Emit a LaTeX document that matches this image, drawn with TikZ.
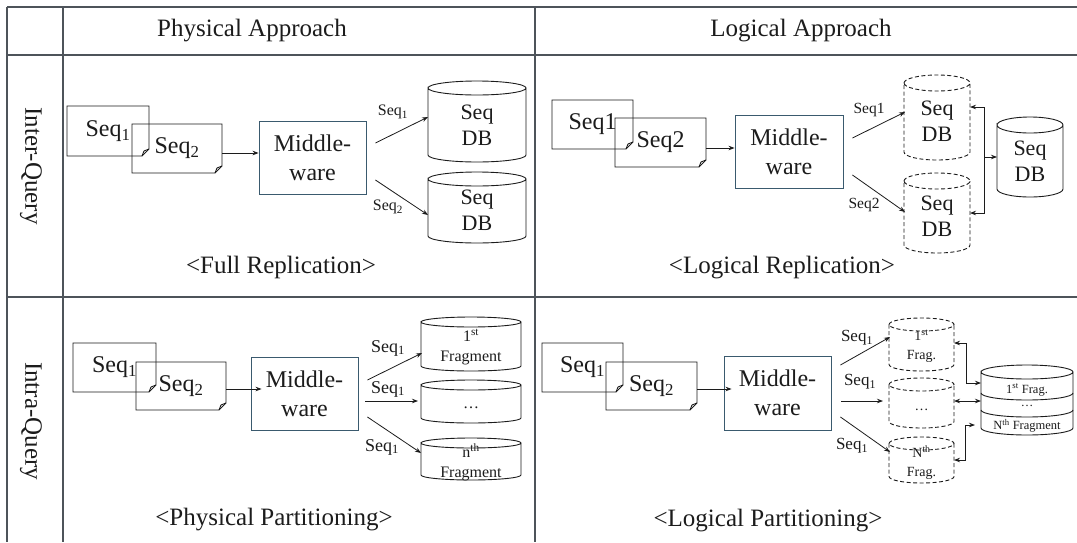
\documentclass[tikz,border=0pt]{standalone}
\usepackage{fontspec}
\setmainfont{Liberation Serif}
\usetikzlibrary{arrows.meta,calc}

\definecolor{ink}{RGB}{28,28,28}
\definecolor{rule}{RGB}{78,84,90}
\definecolor{mwedge}{RGB}{58,90,110}

\newcommand\fsz[2]{\fontsize{#1}{#2}\selectfont}

% sheet of paper with a dog-eared lower right corner, drawn round a named node
\newcommand\sheet[1]{%
  \draw[sheetline] (#1.north west) -- (#1.north east) -- ($(#1.south east)+(0,-7)$)
     -- ($(#1.south east)+(-7,0)$) -- (#1.south west) -- cycle;
  \draw[sheetline] ($(#1.south east)+(-7,0)$) -- ($(#1.south east)+(-5,-5)$) -- ($(#1.south east)+(0,-7)$);
}

% database cylinder: name, left, top, right, bottom, rim radius, line style, text style, text
\newcommand\dbcyl[9]{%
  \pgfmathsetmacro\cylL{#2}\pgfmathsetmacro\cylT{#3}%
  \pgfmathsetmacro\cylR{#4}\pgfmathsetmacro\cylB{#5}\pgfmathsetmacro\cylRy{#6}%
  \pgfmathsetmacro\cylX{(\cylL+\cylR)/2}\pgfmathsetmacro\cylA{(\cylR-\cylL)/2}%
  \pgfmathsetmacro\cylYt{\cylT+\cylRy}\pgfmathsetmacro\cylYb{\cylB-\cylRy}%
  \pgfmathsetmacro\cylKx{0.5523*\cylA}\pgfmathsetmacro\cylKy{0.5523*\cylRy}%
  \draw[#7] (\cylL,\cylYt) .. controls (\cylL,{\cylYt-\cylKy}) and ({\cylX-\cylKx},\cylT) .. (\cylX,\cylT)
     .. controls ({\cylX+\cylKx},\cylT) and (\cylR,{\cylYt-\cylKy}) .. (\cylR,\cylYt)
     .. controls (\cylR,{\cylYt+\cylKy}) and ({\cylX+\cylKx},{\cylT+2*\cylRy}) .. (\cylX,{\cylT+2*\cylRy})
     .. controls ({\cylX-\cylKx},{\cylT+2*\cylRy}) and (\cylL,{\cylYt+\cylKy}) .. (\cylL,\cylYt)
     -- (\cylL,\cylYb) .. controls (\cylL,{\cylYb+\cylKy}) and ({\cylX-\cylKx},\cylB) .. (\cylX,\cylB)
     .. controls ({\cylX+\cylKx},\cylB) and (\cylR,{\cylYb+\cylKy}) .. (\cylR,\cylYb) -- (\cylR,\cylYt);
  \node[inner sep=0pt, outer sep=0pt, minimum width={(#4-#2)*1pt},
        minimum height={(#5-#3-2*#6)*1pt}, label={[align=center,inner sep=0pt,#8]center:#9}]
        (#1) at (\cylX,{(\cylT+2*\cylRy+\cylB)/2}) {};
}

% lower half of a rim, used for the bands of a stacked store
\newcommand\lowrim[5]{%
  \pgfmathsetmacro\rimX{(#1+#2)/2}\pgfmathsetmacro\rimKx{0.5523*(#2-#1)/2}\pgfmathsetmacro\rimKy{0.5523*#4}%
  \draw[#5] (#1,#3) .. controls (#1,{#3+\rimKy}) and ({\rimX-\rimKx},{#3+#4}) .. (\rimX,{#3+#4})
     .. controls ({\rimX+\rimKx},{#3+#4}) and (#2,{#3+\rimKy}) .. (#2,#3);
}

\begin{document}
\begin{tikzpicture}[x=1pt,y=-1pt,
  sheetline/.style={draw=ink, line width=0.9pt},
  sheetbox/.style={inner sep=0pt, outer sep=0pt, text=ink, font=\fsz{24}{28}},
  mware/.style={draw=mwedge, line width=0.9pt, inner sep=0pt, align=center, text=ink, font=\fsz{24}{29}},
  dbline/.style={draw=ink, line width=0.9pt},
  dbdash/.style={draw=ink, line width=0.9pt, dash pattern=on 4pt off 2.5pt},
  arr/.style={draw=ink, line width=0.8pt, -{Stealth[length=6pt,width=4.5pt]}},
  biarr/.style={draw=ink, line width=0.8pt, {Stealth[length=6pt,width=4.5pt]}-{Stealth[length=6pt,width=4.5pt]}},
  grid/.style={draw=rule, line width=1.2pt},
  head/.style={text=ink, font=\fsz{25}{30}},
  caption/.style={text=ink, font=\fsz{25}{30}},
  lblA/.style={text=ink, font=\fsz{16}{19}},
  lblB/.style={text=ink, font=\fsz{15.5}{19}},
  lblC/.style={text=ink, font=\fsz{18}{21}},
  lblD/.style={text=ink, font=\fsz{17}{20}},
  dbtxt/.style={text=ink, font=\fsz{22}{26}},
  fragtxt/.style={text=ink, font=\fsz{16}{20}},
  fragsm/.style={text=ink, font=\fsz{14}{19}},
  fragxs/.style={text=ink, font=\fsz{12.5}{15}}
]
\useasboundingbox (0,0) rectangle (1077,542);
\fill[white] (0,0) rectangle (1077,542);

% ---- table grid ----
\draw[grid] (7,7) -- (1077,7);
\draw[grid] (7,55) -- (1077,55);
\draw[grid] (7,297) -- (1077,297);
\draw[grid] (7,7) -- (7,542);
\draw[grid] (63,7) -- (63,542);
\draw[grid] (535,7) -- (535,542);

\node[head] (hPhys) at (252,31) {Physical Approach};
\node[head] (hLog) at (801,31) {Logical Approach};
\node[head, rotate=-90] (hInter) at (31,166) {Inter-Query};
\node[head, rotate=-90] (hIntra) at (31,421) {Intra-Query};

% ---- full replication ----
\node[sheetbox, minimum width=82pt, minimum height=50pt] (A1) at (108,131) {Seq\textsubscript{1}};
\node[sheetbox, minimum width=90pt, minimum height=49pt] (A2) at (177,148.5) {Seq\textsubscript{2}};
\sheet{A1}\sheet{A2}
\node[mware, minimum width=107pt, minimum height=73pt] (mw1) at (312.5,157.5) {Middle-\\ware};
\dbcyl{c11}{428}{81}{526}{162}{7}{dbline}{dbtxt,yshift=3pt}{Seq\\DB}
\dbcyl{c12}{428}{172}{526}{243}{7}{dbline}{dbtxt,yshift=4pt}{Seq\\DB}
\draw[arr] ($(A2.east)+(0,4.5)$) -- ($(mw1.west)+(0,-4.5)$);
\draw[arr] ($(mw1.east)+(9,-14.5)$) -- ($(c11.west)+(0,-11.5)$);
\draw[arr] ($(mw1.east)+(9,22.5)$) -- ($(c12.west)+(0,0.5)$);
\node[lblA] (l11) at (393,112) {Seq\textsubscript{1}};
\node[lblA] (l12) at (388,207) {Seq\textsubscript{2}};
\node[caption] (capA) at (281,267) {\textless Full Replication\textgreater};

% ---- logical replication ----
\node[sheetbox, minimum width=81pt, minimum height=49pt] (B1) at (592.5,124.5) {Seq1};
\node[sheetbox, minimum width=91pt, minimum height=49pt] (B2) at (660.5,142.5) {Seq2};
\sheet{B1}\sheet{B2}
\node[mware, minimum width=108pt, minimum height=73pt] (mw2) at (789,151.5) {Middle-\\ware};
\dbcyl{d11}{904}{75}{970}{160}{8}{dbdash}{dbtxt,yshift=4pt}{Seq\\DB}
\dbcyl{d12}{904}{173}{970}{253}{8}{dbdash}{dbtxt,yshift=5pt}{Seq\\DB}
\dbcyl{s1}{997}{117}{1063}{197}{8}{dbline}{dbtxt,yshift=3.5pt}{Seq\\DB}
\draw[arr] ($(B2.east)+(0,5.5)$) -- ($(mw2.west)+(0,-3.5)$);
\draw[arr] ($(mw2.east)+(9,-13.5)$) -- ($(d11.west)+(1,-13.5)$);
\draw[arr] ($(mw2.east)+(9,23.5)$) -- ($(d12.west)+(1,-9)$);
\coordinate (j1) at ($(s1.west)+(-13,-8)$);
\draw[arr] (j1) |- ($(d11.east)+(0,-18.5)$);
\draw[arr] (j1) |- ($(d12.east)+(0,-8)$);
\draw[arr] (j1) -- ($(s1.west)+(0,-8)$);
\node[lblB] (l21) at (869,110) {Seq1};
\node[lblB] (l22) at (864,205) {Seq2};
\node[caption] (capB) at (782,268) {\textless Logical Replication\textgreater};

% ---- physical partitioning ----
\node[sheetbox, minimum width=83pt, minimum height=49pt] (C1) at (114.5,367.5) {Seq\textsubscript{1}};
\node[sheetbox, minimum width=90pt, minimum height=48pt] (C2) at (181,386) {Seq\textsubscript{2}};
\sheet{C1}\sheet{C2}
\node[mware, minimum width=107pt, minimum height=73pt] (mw3) at (304.5,393.5) {Middle-\\ware};
\dbcyl{e1}{421}{317}{521}{371}{5}{dbline}{fragtxt,yshift=2pt}{1\textsuperscript{st}\\Fragment}
\dbcyl{e2}{421}{380}{521}{423}{5}{dbline}{fragtxt,yshift=-1.5pt}{\dots}
\dbcyl{e3}{421}{438}{521}{480}{5}{dbline}{fragtxt,yshift=2pt}{n\textsuperscript{th}\\Fragment}
\draw[arr] ($(C2.east)+(0,3)$) -- ($(mw3.west)+(11,-4.5)$);
\draw[arr] ($(mw3.east)+(9,-13.5)$) -- ($(e1.west)+(1,4)$);
\draw[arr] ($(mw3.east)+(7,7.5)$) -- ($(e2.west)+(-3,-5.5)$);
\draw[arr] ($(mw3.east)+(9,23.5)$) -- ($(e3.west)+(0,-11)$);
\node[lblC] (l31) at (388,348) {Seq\textsubscript{1}};
\node[lblC] (l32) at (388,389) {Seq\textsubscript{1}};
\node[lblC] (l33) at (382,447) {Seq\textsubscript{1}};
\node[caption] (capC) at (274,520) {\textless Physical Partitioning\textgreater};

% ---- logical partitioning ----
\node[sheetbox, minimum width=81pt, minimum height=49pt] (D1) at (582.5,367.5) {Seq\textsubscript{1}};
\node[sheetbox, minimum width=91pt, minimum height=48pt] (D2) at (651.5,386) {Seq\textsubscript{2}};
\sheet{D1}\sheet{D2}
\node[mware, minimum width=107pt, minimum height=74pt] (mw4) at (777.5,393) {Middle-\\ware};
\dbcyl{f1}{889}{318}{954}{371}{6.5}{dbdash}{fragsm,yshift=5pt}{1\textsuperscript{st}\\Frag.}
\dbcyl{f2}{889}{378}{954}{428}{6.5}{dbdash}{fragsm}{\dots}
\dbcyl{f3}{889}{437}{954}{483}{6.5}{dbdash}{fragsm,yshift=4pt}{N\textsuperscript{th}\\Frag.}
\dbcyl{st}{981}{365}{1073}{435}{7}{dbline}{}{}
\lowrim{981}{1073}{393}{7}{dbline}
\lowrim{981}{1073}{410}{7}{dbline}
\node[fragxs] (st1) at (1027,390) {1\textsuperscript{st} Frag.};
\node[fragxs] (st2) at (1027,406) {\dots};
\node[fragxs] (st3) at (1027,426) {N\textsuperscript{th} Fragment};
\draw[arr] ($(D2.east)+(0,3)$) -- ($(mw4.west)+(8,-4)$);
\draw[arr] ($(mw4.east)+(9,-28)$) -- ($(f1.west)+(1,-14)$);
\draw[arr] ($(mw4.east)+(10,8)$) -- ($(f2.west)+(-6,-8.5)$);
\draw[arr] ($(mw4.east)+(9,24)$) -- ($(f3.west)+(1,-14.5)$);
\draw[biarr] ($(f1.east)+(0,-8)$) -| ($(st.west)+(-15,-24)$) -- ($(st.west)+(0,-24)$);
\draw[biarr] ($(f2.east)+(0,-8.5)$) -- ($(st.west)+(0,-6)$);
\draw[biarr] ($(f3.east)+(0,-6.5)$) -| ($(st.west)+(-16,18)$) -- ($(st.west)+(-6,18)$);
\node[lblD] (l41) at (857,338) {Seq\textsubscript{1}};
\node[lblD] (l42) at (860,382) {Seq\textsubscript{1}};
\node[lblD] (l43) at (852,446) {Seq\textsubscript{1}};
\node[caption] (capD) at (768,521) {\textless Logical Partitioning\textgreater};
\end{tikzpicture}
\end{document}
